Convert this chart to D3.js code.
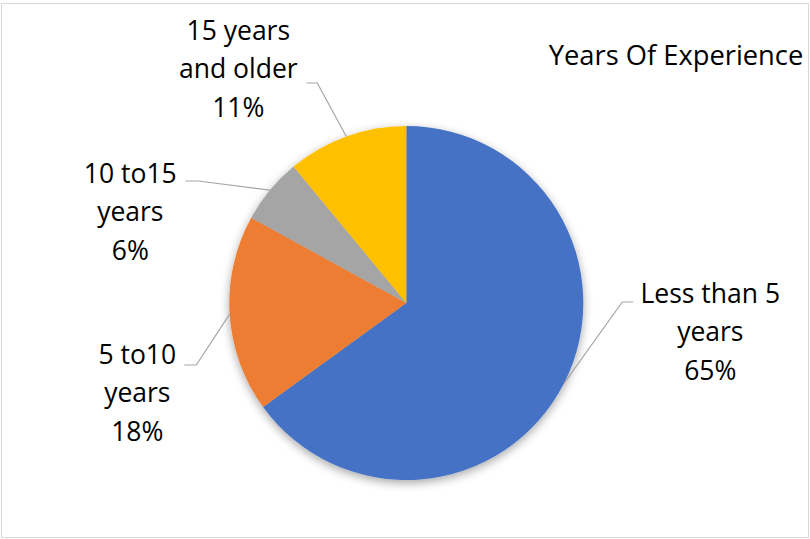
<!DOCTYPE html>
<html>
<head>
<meta charset="utf-8">
<script src="https://cdn.jsdelivr.net/npm/d3@7/dist/d3.min.js"></script>
<style>
  html, body { margin: 0; padding: 0; background: #fff; }
  svg { display: block; }
  text { font-family: "Open Sans", "Noto Sans", sans-serif; fill: #000; }
</style>
</head>
<body>
<svg id="chart" width="810" height="539"></svg>
<script>
// Years of experience split (percent), clockwise from 12 o'clock
const categories = ["Less than 5 years", "5 to10 years", "10 to15 years", "15 years and older"];
const values = [65, 18, 6, 11];
const labelLines = [
  ["Less than 5", "years", "65%"],
  ["5 to10", "years", "18%"],
  ["10 to15", "years", "6%"],
  ["15 years", "and older", "11%"]
];
const colors = ["#4472C4", "#ED7D31", "#A5A5A5", "#FFC000"];
const title = "Years Of Experience";

// Layout
const W = 810, H = 539;
const cx = 406.3, cy = 303, R = 177;
const fontSize = 26.5, lineGap = 38.5;

// Placement of each data label (text centre, first baseline) and the
// horizontal stub of its leader line, relative to the pie centre
const labelPlace = [
  { tx: 304, ty: -0.5,   stubY: -1, stubFrom: 227, stubTo: 216 },
  { tx: -269, ty: 60.5,  stubY: 62, stubFrom: -222, stubTo: -210 },
  { tx: -276, ty: -120.5, stubY: -122, stubFrom: -221, stubTo: -208 },
  { tx: -168, ty: -263.5, stubY: -220, stubFrom: -100, stubTo: -89 }
];

const svg = d3.select("#chart");

// chart area border
svg.append("rect")
  .attr("x", 1.5).attr("y", 3.5)
  .attr("width", W - 3).attr("height", H - 5)
  .attr("fill", "#fff")
  .attr("stroke", "#d9d9d9").attr("stroke-width", 1);

const defs = svg.append("defs");
const f = defs.append("filter").attr("id", "pieShadow")
  .attr("x", "-20%").attr("y", "-20%").attr("width", "140%").attr("height", "140%");
f.append("feDropShadow")
  .attr("dx", 0).attr("dy", 3).attr("stdDeviation", 5)
  .attr("flood-color", "#000").attr("flood-opacity", 0.35);

const pie = d3.pie().sort(null).value(d => d)(values);
const arc = d3.arc().innerRadius(0).outerRadius(R);

const g = svg.append("g").attr("transform", `translate(${cx},${cy})`);

g.append("g").attr("filter", "url(#pieShadow)")
  .selectAll("path")
  .data(pie)
  .join("path")
  .attr("d", arc)
  .attr("fill", (d, i) => colors[i]);

// leader lines: from the slice's mid-angle on the rim to the label stub
const rimPoint = d => {
  const a = (d.startAngle + d.endAngle) / 2;
  return [R * Math.sin(a), -R * Math.cos(a)];
};
const line = d3.line();
g.append("g")
  .selectAll("path")
  .data(pie)
  .join("path")
  .attr("d", (d, i) => {
    const p = labelPlace[i];
    return line([[p.stubFrom, p.stubY], [p.stubTo, p.stubY], rimPoint(d)]);
  })
  .attr("fill", "none")
  .attr("stroke", "#a6a6a6")
  .attr("stroke-width", 1.2);

// data labels
const labels = g.append("g")
  .selectAll("text")
  .data(pie)
  .join("text")
  .attr("text-anchor", "middle")
  .attr("font-size", fontSize)
  .attr("x", (d, i) => labelPlace[i].tx)
  .attr("y", (d, i) => labelPlace[i].ty);
labels.selectAll("tspan")
  .data((d, i) => labelLines[i])
  .join("tspan")
  .attr("x", function () { return this.parentNode.getAttribute("x"); })
  .attr("dy", (d, j) => j === 0 ? 0 : lineGap)
  .text(d => d);

// title
svg.append("text")
  .attr("x", 676).attr("y", 65)
  .attr("text-anchor", "middle")
  .attr("font-size", 27.3)
  .text(title);
</script>
</body>
</html>
